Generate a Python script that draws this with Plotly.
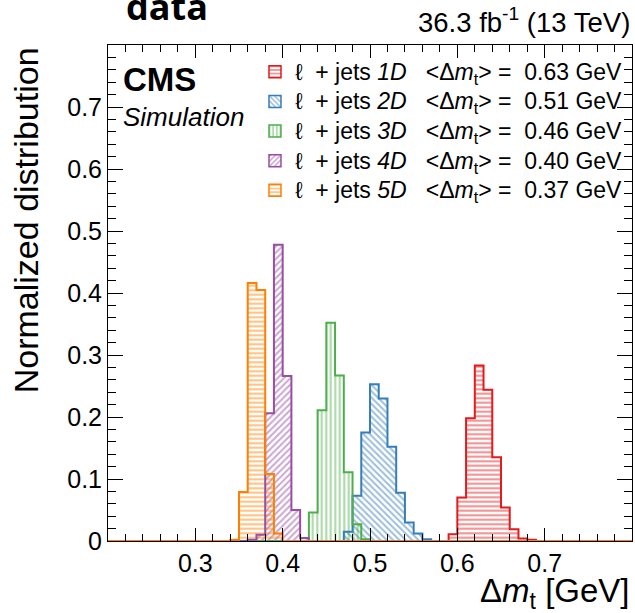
import plotly.graph_objects as go

# ---------------- data ----------------
bin_width = 0.01
x_range = [0.2, 0.8]
y_range = [0.0, 0.8]
x_tickvals = [0.3, 0.4, 0.5, 0.6, 0.7]
y_tickvals = [0, 0.1, 0.2, 0.3, 0.4, 0.5, 0.6, 0.7]

names = ["1D", "2D", "3D", "4D", "5D"]
means = ["0.63", "0.51", "0.46", "0.40", "0.37"]
colors = ["#e41a1c", "#377eb8", "#4daf4a", "#984ea3", "#ff7f00"]
patterns = ["-", "\\", "|", "/", "-"]

lo_1d = 0.59
vals_1d = [0.011, 0.070, 0.198, 0.283, 0.244, 0.135, 0.054, 0.019, 0.004, 0.002]
lo_2d = 0.47
vals_2d = [0.015, 0.073, 0.175, 0.253, 0.230, 0.152, 0.078, 0.030, 0.012, 0.003]
lo_3d = 0.43
vals_3d = [0.046, 0.211, 0.352, 0.267, 0.111, 0.027, 0.003]
lo_4d = 0.36
vals_4d = [0.002, 0.010, 0.206, 0.478, 0.266, 0.050, 0.005]
lo_5d = 0.34
vals_5d = [0.002, 0.079, 0.416, 0.405, 0.108, 0.012]

series_lo = [lo_1d, lo_2d, lo_3d, lo_4d, lo_5d]
series_vals = [vals_1d, vals_2d, vals_3d, vals_4d, vals_5d]

FONT = "Liberation Sans"

fig = go.Figure()

for name, mean, col, pat, lo, vals in zip(names, means, colors, patterns, series_lo, series_vals):
    edges = [round(lo + i * bin_width, 4) for i in range(len(vals) + 1)]
    centers = [round(lo + (i + 0.5) * bin_width, 4) for i in range(len(vals))]
    pattern = dict(shape=pat, fgcolor=col, bgcolor="rgba(255,255,255,0)",
                   size=4.5, solidity=0.45, fillmode="overlay")
    # hatched fill
    fig.add_trace(go.Bar(
        x=centers, y=vals, width=bin_width,
        marker=dict(color="rgba(255,255,255,0)", line=dict(width=0), pattern=pattern),
        showlegend=False, hoverinfo="skip"))
    # outline (step)
    xs = [x_range[0]] + edges + [x_range[1]]
    ys = [0] + vals + [0, 0]
    fig.add_trace(go.Scatter(
        x=xs, y=ys, mode="lines", line=dict(color=col, width=2, shape="hv"),
        showlegend=False, hoverinfo="skip"))
    # legend entry
    label = ("<span style='font-size:23px'>\u2113\u00a0 + jets <i>%s</i>\u00a0\u00a0\u00a0&lt;\u0394<i>m</i><sub>t</sub>&gt; =\u00a0\u00a0%s GeV</span>"
             % (name, mean))
    fig.add_trace(go.Bar(
        x=[None], y=[None], name=label,
        marker=dict(color="rgba(255,255,255,0)", line=dict(width=1.5, color=col), pattern=pattern),
        showlegend=True))

axis_common = dict(
    showline=True, linecolor="black", linewidth=1, mirror="allticks",
    ticks="inside", tickcolor="black", tickwidth=1,
    showgrid=False, zeroline=False,
    tickfont=dict(family=FONT, size=25, color="black"),
)

fig.update_xaxes(range=x_range, tickmode="array", tickvals=x_tickvals, ticklen=13,
                 minor=dict(tickmode="linear", tick0=0, dtick=0.02, ticks="inside", ticklen=7,
                            tickcolor="black", tickwidth=1),
                 **axis_common)
fig.update_yaxes(range=y_range, tickmode="array", tickvals=y_tickvals, ticklen=15,
                 minor=dict(tickmode="linear", tick0=0, dtick=0.02, ticks="inside", ticklen=8,
                            tickcolor="black", tickwidth=1),
                 **axis_common)

fig.update_layout(
    width=635, height=613,
    margin=dict(l=108, r=3, t=45, b=72, autoexpand=False),
    plot_bgcolor="white", paper_bgcolor="white",
    barmode="overlay", bargap=0,
    showlegend=True,
    legend=dict(x=0.2805, y=0.986, xanchor="left", yanchor="top",
                bgcolor="rgba(0,0,0,0)", borderwidth=0,
                font=dict(family=FONT, size=20.5, color="black"),
                itemwidth=30, tracegroupgap=0),
    annotations=[
        dict(text="<b>data</b>", x=0.03, xref="paper", y=1.0785, yref="paper",
             showarrow=False, xanchor="left", yanchor="middle",
             font=dict(family="Open Sans", size=36, color="black")),
        dict(text="36.3 fb<sup>-1</sup> (13 TeV)", x=1, xref="paper", y=1.05, yref="paper",
             showarrow=False, xanchor="right", yanchor="middle",
             font=dict(family=FONT, size=27.5, color="black")),
        dict(text="<b>CMS</b>", x=0.025, xref="paper", y=0.971, yref="paper",
             showarrow=False, xanchor="left", yanchor="top",
             font=dict(family=FONT, size=33, color="black")),
        dict(text="<i>Simulation</i>", x=0.025, xref="paper", y=0.89, yref="paper",
             showarrow=False, xanchor="left", yanchor="top",
             font=dict(family=FONT, size=26, color="black")),
        dict(text="\u0394<i>m</i><sub>t</sub> [GeV]", x=1, xref="paper", y=-0.058, yref="paper",
             showarrow=False, xanchor="right", yanchor="top",
             font=dict(family=FONT, size=33, color="black")),
        dict(text="Normalized distribution", x=-0.156, xref="paper", y=1, yref="paper",
             showarrow=False, xanchor="center", yanchor="top", textangle=-90,
             font=dict(family=FONT, size=34, color="black")),
    ],
)

fig.write_html("out.html", config={"displayModeBar": False},
               post_script="document.body.style.margin='0';")
